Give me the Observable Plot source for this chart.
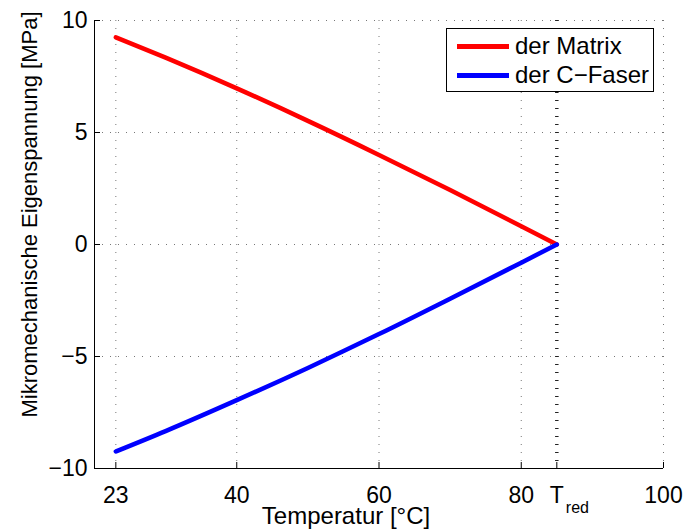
<!DOCTYPE html>
<html>
<head>
<meta charset="utf-8">
<script src="https://cdn.jsdelivr.net/npm/d3@7"></script>
<script src="https://cdn.jsdelivr.net/npm/@observablehq/plot@0.6"></script>
<style>
  html, body { margin: 0; padding: 0; background: #fff; }
  #wrap { position: relative; width: 684px; height: 529px; font-family: "Liberation Sans", Arial, sans-serif; }
  #legend { position: absolute; left: 446px; top: 28px; width: 208px; height: 64px; border: 1px solid #000; background: #fff; box-sizing: border-box; }
  .item { position: absolute; left: 10px; height: 26px; display: flex; align-items: center; font-size: 24px; color: #000; white-space: nowrap; }
  .swatch { width: 52px; height: 5px; margin-right: 6px; }
</style>
</head>
<body>
<div id="wrap"></div>
<script>
// ---- data ----
const temperatures = [23, 30, 40, 50, 60, 70, 80, 85];
const matrixStress = [9.25, 8.34, 6.97, 5.52, 4.0, 2.43, 0.82, 0];
const fiberStress  = [-9.24, -8.33, -6.95, -5.51, -4.0, -2.42, -0.81, 0];
const seriesNames = ["der Matrix", "der C\u2212Faser"];
const seriesColors = ["#ff0000", "#0000ff"];
const xTicks = [23, 40, 60, 80, 85, 100];
const xTickLabels = ["23", "40", "60", "80", "", "100"];
const xGridTicks = [23, 40, 60, 80, 100];
const yTicks = [-10, -5, 0, 5, 10];
const yTickLabels = ["\u221210", "\u22125", "0", "5", "10"];
const tRed = 85;
const xLabel = "Temperatur [°C]";
const yLabel = "Mikromechanische Eigenspannung [MPa]";

const rows = [];
temperatures.forEach((t, i) => {
  rows.push({T: t, s: matrixStress[i], series: seriesNames[0]});
});
temperatures.forEach((t, i) => {
  rows.push({T: t, s: fiberStress[i], series: seriesNames[1]});
});

const fs = 23;
const chart = Plot.plot({
  width: 684,
  height: 529,
  marginLeft: 94,
  marginRight: 21,
  marginTop: 20,
  marginBottom: 61,
  style: {fontFamily: "Liberation Sans, Arial, sans-serif", fontSize: fs + "px", background: "#fff", color: "#000", overflow: "visible"},
  x: {domain: [20, 100]},
  y: {domain: [-10, 10]},
  color: {domain: seriesNames, range: seriesColors},
  marks: [
    Plot.gridX(xGridTicks, {stroke: "#777", strokeOpacity: 1, strokeWidth: 1, strokeDasharray: "1,7"}),
    Plot.gridY(yTicks, {stroke: "#777", strokeOpacity: 1, strokeWidth: 1, strokeDasharray: "1,7"}),
    Plot.ruleX([tRed], {stroke: "#222", strokeWidth: 3.5, strokeDasharray: "1,7"}),
    Plot.ruleX([20], {stroke: "#000", strokeWidth: 1}),
    Plot.ruleY([-10], {stroke: "#000", strokeWidth: 1}),
    Plot.axisX({ticks: xTicks, tickFormat: (d) => xTickLabels[xTicks.indexOf(d)], tickSize: -6, tickPadding: 24, fontSize: fs, label: null}),
    Plot.axisY({ticks: yTicks, tickFormat: (d) => yTickLabels[yTicks.indexOf(d)], tickSize: -6, tickPadding: 13, fontSize: fs, label: null}),
    Plot.text([tRed], {x: (d) => d, text: () => "T", frameAnchor: "bottom", lineAnchor: "top", dy: 17.7, fontSize: fs}),
    Plot.text([tRed], {x: (d) => d, text: () => "red", frameAnchor: "bottom", textAnchor: "start", lineAnchor: "top", dx: 9, dy: 33, fontSize: 16}),
    Plot.text([xLabel], {text: (d) => d, frameAnchor: "bottom", textAnchor: "middle", lineAnchor: "middle", dx: -33, dy: 48, fontSize: 24}),
    Plot.text([yLabel], {text: (d) => d, frameAnchor: "left", rotate: -90, textAnchor: "middle", lineAnchor: "middle", dx: -65, dy: -30, fontSize: 22}),
    Plot.line(rows, {x: "T", y: "s", z: "series", stroke: "series", strokeWidth: 4.5, curve: "monotone-x"})
  ]
});

const wrap = document.getElementById("wrap");
wrap.appendChild(chart);

const legend = document.createElement("div");
legend.id = "legend";
seriesNames.forEach((name, i) => {
  const item = document.createElement("div");
  item.className = "item";
  item.style.top = (i === 0 ? 4 : 33) + "px";
  const sw = document.createElement("div");
  sw.className = "swatch";
  sw.style.background = seriesColors[i];
  const tx = document.createElement("span");
  tx.textContent = name;
  item.appendChild(sw);
  item.appendChild(tx);
  legend.appendChild(item);
});
wrap.appendChild(legend);
</script>
</body>
</html>
